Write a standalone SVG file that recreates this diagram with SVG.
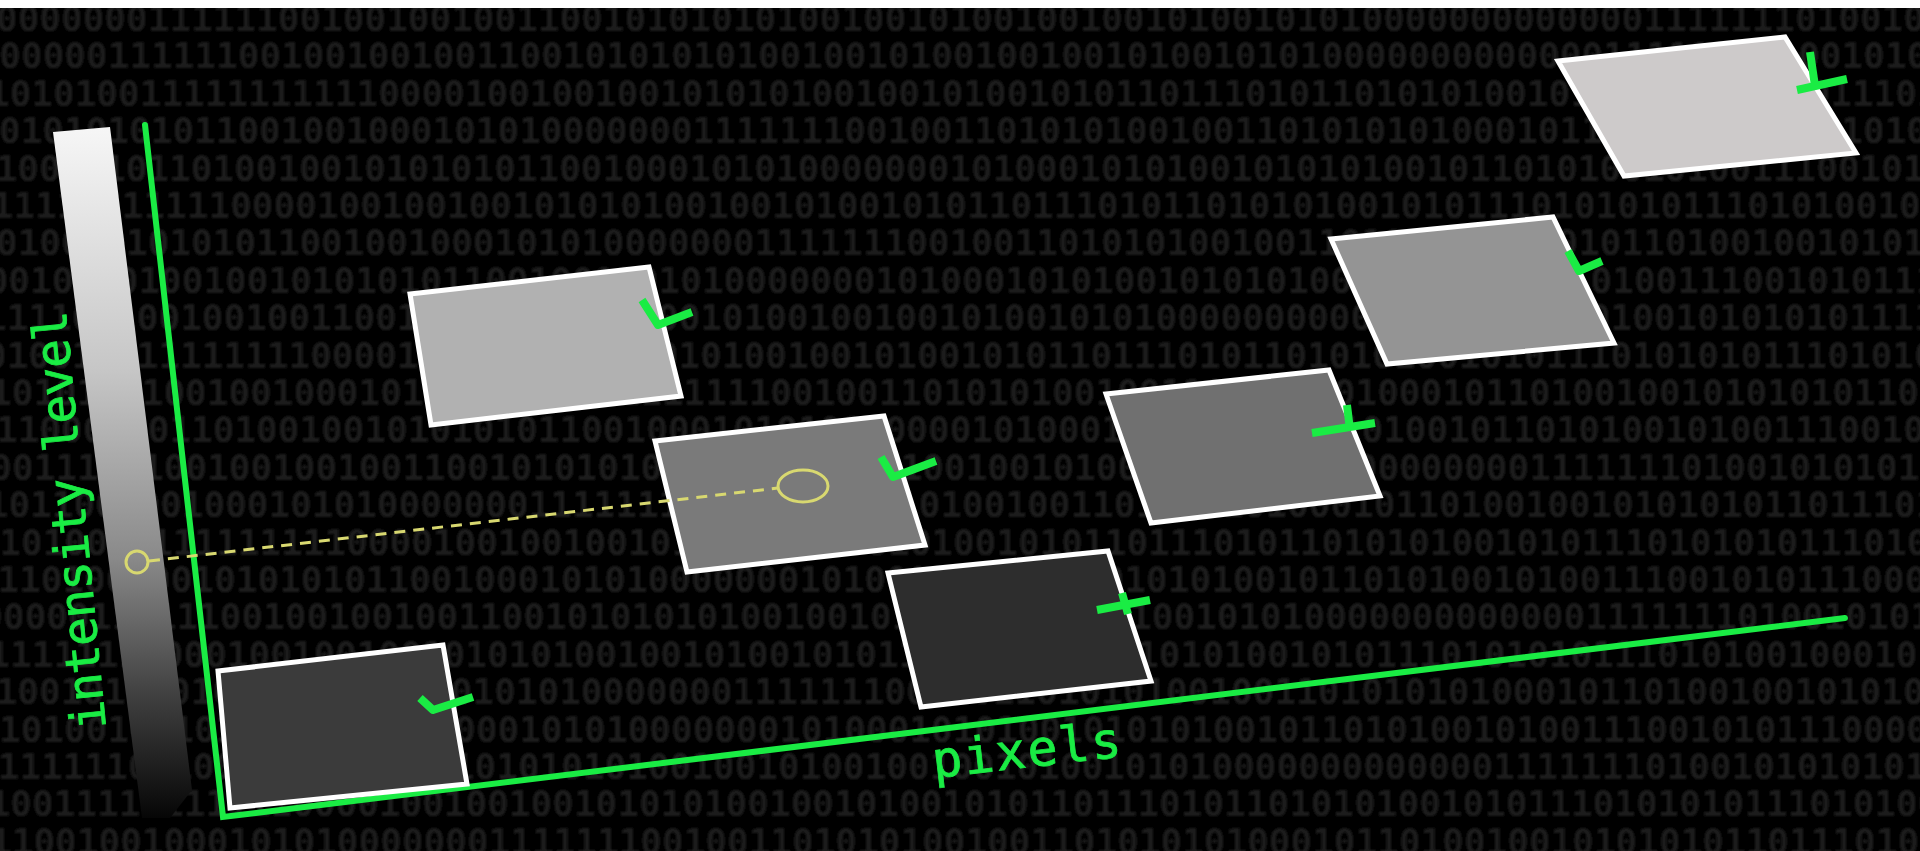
<svg xmlns="http://www.w3.org/2000/svg" xmlns:xlink="http://www.w3.org/1999/xlink" width="1920" height="851" viewBox="0 0 1920 851">
<style>
.bin{font-family:"DejaVu Sans Mono","Liberation Mono",monospace;font-size:36px;font-weight:bold;fill:#1e1e1e}
.px{stroke:#ffffff;stroke-width:5;stroke-linejoin:miter}
.tick{fill:none;stroke:#1aec44;stroke-width:8;stroke-linecap:butt;stroke-linejoin:round}
.axis{fill:none;stroke:#1aec44;stroke-width:6;stroke-linecap:round;stroke-linejoin:miter}
.lbl{font-family:"DejaVu Sans Mono","Liberation Mono",monospace;fill:#1aec44;stroke:#1aec44;stroke-width:0.8}
.yl{fill:none;stroke:#d8d870;stroke-width:3}
</style>
<defs>
<linearGradient id="bar" gradientUnits="userSpaceOnUse" x1="0" y1="128" x2="0" y2="820">
<stop offset="0" stop-color="#f6f6f6"/>
<stop offset="0.35" stop-color="#c6c6c6"/>
<stop offset="0.62" stop-color="#8a8a8a"/>
<stop offset="0.82" stop-color="#404040"/>
<stop offset="1" stop-color="#050505"/>
</linearGradient>
<filter id="soft" x="-1%" y="-1%" width="102%" height="102%"><feGaussianBlur stdDeviation="1.1"/></filter>
<text id="rA" class="bin">00000001111110010010010011001010101010010010100100100101001010100000000000001111111010010101010111101010010010111001010001101010010100101110010100111100</text>
<text id="rB" class="bin">10101001111111111100001001001001010101001001010010101101110101101010100101011101010101110101001000101011101001110110101001001110101010010010101110101010</text>
<text id="rC" class="bin">01001010101011001001000101010000000111111100100110101010010011010101010001011010010010101010110111010010010011110000101011101001110010101001010111001011</text>
<text id="rD" class="bin">11000010110100100101010101100100010101000000010100010101001010101001011010100101001110010101110000101001010001011110101001001111100100101010111100100101</text>
</defs>
<rect width="1920" height="851" fill="#000000"/>
<g id="background-digits" filter="url(#soft)">
<use xlink:href="#rA" x="-4" y="31"/>
<use xlink:href="#rA" x="-44" y="68"/>
<use xlink:href="#rB" x="-12" y="106"/>
<use xlink:href="#rC" x="-66" y="143"/>
<use xlink:href="#rD" x="-26" y="181"/>
<use xlink:href="#rB" x="-160" y="218"/>
<use xlink:href="#rC" x="-4" y="255"/>
<use xlink:href="#rD" x="-100" y="293"/>
<use xlink:href="#rA" x="-210" y="330"/>
<use xlink:href="#rB" x="-80" y="368"/>
<use xlink:href="#rC" x="-140" y="405"/>
<use xlink:href="#rD" x="-4" y="442"/>
<use xlink:href="#rA" x="-118" y="480"/>
<use xlink:href="#rC" x="-230" y="517"/>
<use xlink:href="#rB" x="-44" y="555"/>
<use xlink:href="#rD" x="-176" y="592"/>
<use xlink:href="#rA" x="-62" y="629"/>
<use xlink:href="#rB" x="-250" y="667"/>
<use xlink:href="#rC" x="-26" y="704"/>
<use xlink:href="#rD" x="-196" y="742"/>
<use xlink:href="#rA" x="-154" y="779"/>
<use xlink:href="#rB" x="-98" y="816"/>
<use xlink:href="#rC" x="-270" y="854"/>
</g>
<rect x="0" y="0" width="1920" height="8" fill="#ffffff"/>
<g id="intensity-bar">
<polygon points="53,132 110,127 192,790 170,818 142,818" fill="url(#bar)"/>
</g>
<g id="axes">
<polyline class="axis" points="145,125 223,817 1845,618"/>
</g>
<g id="pixel-1">
<polygon class="px" points="218,671 443,645 467,784 230,808" fill="#3b3b3b"/>
<polyline class="tick" points="420,698 433,710 473,697"/>
</g>
<g id="pixel-2">
<polygon class="px" points="410,294 649,267 681,396 431,425" fill="#b1b1b1"/>
<polyline class="tick" points="642,300 658,325 692,312"/>
</g>
<g id="pixel-3">
<polygon class="px" points="655,441 884,416 925,545 687,572" fill="#7a7a7a"/>
<polyline class="tick" points="881,457 893,477 936,461"/>
</g>
<g id="pixel-4">
<polygon class="px" points="888,573 1108,551 1151,681 921,707" fill="#2d2d2d"/>
<line class="tick" x1="1097" y1="610" x2="1150" y2="600"/>
<line class="tick" x1="1122" y1="593" x2="1128" y2="614"/>
</g>
<g id="pixel-5">
<polygon class="px" points="1106,394 1329,370 1380,496 1151,523" fill="#707070"/>
<line class="tick" x1="1312" y1="433" x2="1375" y2="423"/>
<line class="tick" x1="1347" y1="405" x2="1350" y2="430"/>
</g>
<g id="pixel-6">
<polygon class="px" points="1331,239 1553,217 1614,343 1387,364" fill="#949494"/>
<polyline class="tick" points="1568,251 1579,271 1602,261"/>
</g>
<g id="pixel-7">
<polygon class="px" points="1558,61 1785,37 1856,153 1624,176" fill="#cdcaca"/>
<line class="tick" x1="1810" y1="52" x2="1815" y2="86"/>
<line class="tick" x1="1797" y1="90" x2="1847" y2="79"/>
</g>
<g id="connectors">
<line class="yl" x1="149" y1="561" x2="778" y2="488" stroke-dasharray="11 8"/>
<circle class="yl" cx="137" cy="562" r="11"/>
<ellipse class="yl" cx="803" cy="486" rx="25" ry="16"/>
</g>
<g id="labels">
<text class="lbl" font-size="48" transform="translate(106,728) rotate(-95.5)" textLength="420" lengthAdjust="spacing">intensity level</text>
<text class="lbl" font-size="50" transform="translate(934,778) rotate(-6.5)" textLength="190" lengthAdjust="spacing">pixels</text>
</g>
</svg>
